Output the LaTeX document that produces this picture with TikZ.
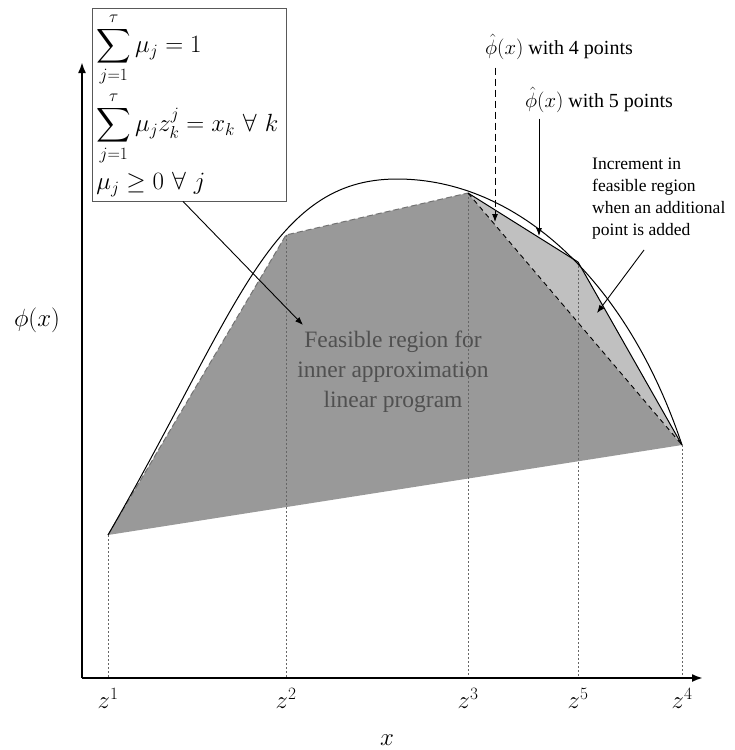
\documentclass[tikz,border=0pt]{standalone}
\usepackage{amsmath,amssymb}
\usepackage[no-math]{fontspec}
\setmainfont{Liberation Serif}
\usetikzlibrary{arrows.meta}
\definecolor{regdark}{HTML}{999999}
\definecolor{reglight}{HTML}{C0C0C0}
\definecolor{regtext}{HTML}{505050}
\begin{document}
\begin{tikzpicture}[x=1pt,y=-1pt,
  axis/.style={line width=2pt, -{Latex[length=11pt,width=8pt]}},
  guide/.style={black!60, line width=0.8pt, dash pattern=on 2pt off 2pt},
  oldedge/.style={black!55, line width=1pt, dash pattern=on 6pt off 3pt},
  newedge/.style={black, line width=1pt},
  callout/.style={line width=0.9pt, -{Latex[length=8pt,width=6pt]}},
  lbl/.style={inner sep=0pt, font=\fontsize{24}{28}\selectfont},
  toplbl/.style={inner sep=0pt, font=\fontsize{20}{24}\selectfont},
]
\useasboundingbox (0,0) rectangle (734,750);
\coordinate (O) at (82,678);
\coordinate (ytop) at (82,62);
\coordinate (xend) at (703,678);
\coordinate (z1) at (108,535);
\coordinate (z2) at (286,235);
\coordinate (z3) at (468,193);
\coordinate (z5) at (578,262);
\coordinate (z4) at (682,445);
\coordinate (peak) at (397,179);

% regions
\fill[regdark] (z1) -- (z2) -- (z3) -- (z4) -- cycle;
\fill[reglight] (z3) -- (z5) -- (z4) -- cycle;

% guides
\foreach \p in {z1,z2,z3,z5,z4} \draw[guide] (\p) -- (\p |- O);

% approximations
\draw[oldedge] (z1) -- (z2) -- (z3);
\draw[black, line width=0.9pt, dash pattern=on 5pt off 4pt] (z3) -- (z4);
\draw[newedge] (z3) -- (z5) -- (z4);

% true function
\draw[line width=1pt] (z1) .. controls (238,310) and (270,179) .. (peak)
                           .. controls (517,179) and (627,280) .. (z4);

% axes
\draw[axis] (O) -- (ytop);
\draw[axis] (O) -- (xend);

% axis labels
\node[inner sep=0pt, font=\fontsize{26}{30}\selectfont] (phi) at (37,320) {$\phi(x)$};
\node[lbl] (xl) at (387,740) {$x$};
\node[lbl] (lz1) at (108,698) {$z^1$};
\node[lbl] (lz2) at (286,698) {$z^2$};
\node[lbl] (lz3) at (468,698) {$z^3$};
\node[lbl] (lz5) at (578,698) {$z^5$};
\node[lbl] (lz4) at (682,698) {$z^4$};

% constraint box
\node[draw=black!65, line width=0.8pt, anchor=north west, align=left, inner sep=4pt,
      text width=186pt, fill=white, font=\fontsize{24}{28}\selectfont] (box) at (92,8)
  {$\displaystyle\sum_{j=1}^{\tau}\mu_j=1$\\[4pt]
   $\displaystyle\sum_{j=1}^{\tau}\mu_j z_k^j=x_k\ \forall\ k$\\[6pt]
   $\mu_j\geq 0\ \forall\ j$};

% feasible region text
\node[align=center, text=regtext, font=\fontsize{23.5}{30}\selectfont, inner sep=0pt] (feas) at (393,372)
  {Feasible region for\\inner approximation\\linear program};
\coordinate (feastip) at (303,325);
\draw[callout] ([xshift=91pt]box.south west) -- (feastip);

% top labels
\node[toplbl, anchor=west] (l4) at (485,47) {$\hat{\phi}(x)$ with 4 points};
\node[toplbl, anchor=west] (l5) at (525,100) {$\hat{\phi}(x)$ with 5 points};
\coordinate (a4) at (495,222);
\coordinate (a5) at (539,236);
\draw[callout, dash pattern=on 7pt off 4pt] ([yshift=-8pt]l4.south -| a4) -- (a4);
\draw[callout] ([yshift=-6pt]l5.south -| a5) -- (a5);

% increment
\node[anchor=north west, align=left, inner sep=0pt, font=\fontsize{17.5}{22}\selectfont] (inc) at (592,158)
  {Increment in\\feasible region\\when an additional\\point is added};
\coordinate (incs) at (644,250);
\coordinate (inct) at (597,313);
\draw[callout] (incs) -- (inct);
\end{tikzpicture}
\end{document}
